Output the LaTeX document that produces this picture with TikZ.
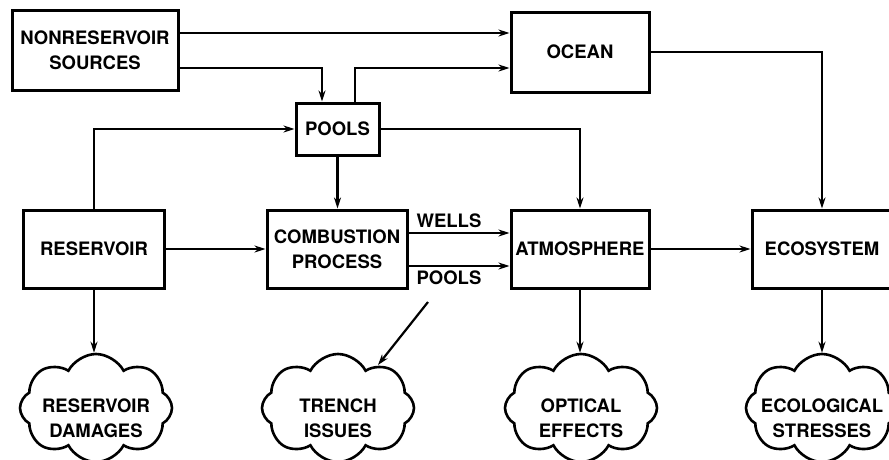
\documentclass[tikz,border=0pt]{standalone}
\usepackage{fontspec}
\setmainfont{TeX Gyre Heros}
\usetikzlibrary{shapes.symbols,arrows.meta}
\begin{document}
\begin{tikzpicture}[x=1pt,y=-1pt,
  lbl/.style={font=\bfseries\fontsize{18.5}{25}\selectfont},
  box/.style={draw,line width=3pt,inner sep=0pt,align=center,lbl},
  cloudy/.style={cloud,draw,line width=2.6pt,cloud puffs=8,cloud puff arc=125,cloud ignores aspect,
    minimum width=152pt,minimum height=108pt,inner sep=0pt},
  ctext/.style={align=center,inner sep=0pt,lbl},
  flow/.style={-{Stealth[length=11pt,width=7pt]},line width=2.2pt}]
\useasboundingbox (0,0) rectangle (889,459);
\node[box,minimum width=166pt,minimum height=80pt] (nrs) at (95,50) {NONRESERVOIR\\SOURCES};
\node[box,minimum width=138pt,minimum height=80pt] (ocean) at (580,52) {OCEAN};
\node[box,minimum width=83pt,minimum height=52pt] (pools) at (337.5,129) {POOLS};
\node[box,minimum width=141pt,minimum height=78pt] (res) at (94,249) {RESERVOIR};
\node[box,minimum width=140pt,minimum height=78pt] (comb) at (337,249) {COMBUSTION\\PROCESS};
\node[box,minimum width=138pt,minimum height=78pt] (atm) at (580,249) {ATMOSPHERE};
\node[box,minimum width=140pt,minimum height=78pt] (eco) at (822,249) {ECOSYSTEM};
\node[cloudy] (rd) at (96,408) {};
\node[cloudy] (ti) at (338,408) {};
\node[cloudy] (oe) at (581,408) {};
\node[cloudy] (es) at (822,408) {};
\node[ctext] (rdt) at (96,418) {RESERVOIR\\DAMAGES};
\node[ctext] (tit) at (338,418) {TRENCH\\ISSUES};
\node[ctext] (oet) at (581,418) {OPTICAL\\EFFECTS};
\node[ctext] (est) at (822,418) {ECOLOGICAL\\STRESSES};
\coordinate (tstart) at (428,302);
\coordinate (tend) at (378,365);
\draw[flow] ([yshift=17pt]nrs.east) -- ([yshift=17pt]nrs.east -| ocean.west);
\draw[flow] ([yshift=-18pt]nrs.east) -| ([xshift=-15.5pt]pools.north);
\draw[flow] ([xshift=17.5pt]pools.north) |- ([yshift=-16pt]ocean.west);
\draw[flow] (res.north) |- (pools.west);
\draw[flow] (pools.east) -| (atm.north);
\draw[flow] (pools.south) -- (pools.south |- comb.north);
\draw[flow] (ocean.east) -| (eco.north);
\draw[flow] (res.east) -- (comb.west);
\draw[flow] ([yshift=16pt]comb.east) -- ([yshift=16pt]comb.east -| atm.west)
  node[lbl,midway,above=2pt,xshift=-10pt,inner sep=2pt] {WELLS};
\draw[flow] ([yshift=-17pt]comb.east) -- ([yshift=-17pt]comb.east -| atm.west)
  node[lbl,midway,below=2pt,xshift=-10pt,inner sep=2pt] {POOLS};
\draw[flow] (atm.east) -- (eco.west);
\draw[flow] (res.south) -- (res.south |- rd.north);
\draw[flow] (tstart) -- (tend);
\draw[flow] (atm.south) -- (atm.south |- oe.north);
\draw[flow] (eco.south) -- (eco.south |- es.north);
\end{tikzpicture}
\end{document}
